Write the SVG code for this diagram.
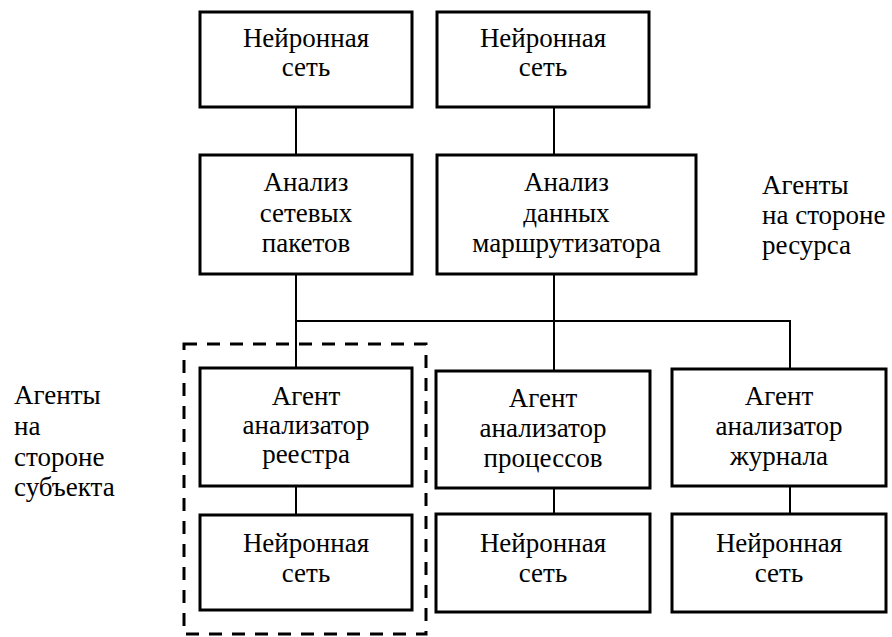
<svg xmlns="http://www.w3.org/2000/svg" width="892" height="637" viewBox="0 0 892 637">
<style>
.box{fill:#fff;stroke:#000;stroke-width:3}
.ln{stroke:#000;stroke-width:2;fill:none}
.dash{fill:none;stroke:#000;stroke-width:3;stroke-dasharray:13 10}
.t{font-family:'Liberation Serif','Times New Roman',serif;font-size:27px;fill:#000}
.c{text-anchor:middle}
</style>
<rect width="892" height="637" fill="#fff"/>
<g id="connectors">
<line class="ln" x1="296" y1="107" x2="296" y2="155"/>
<line class="ln" x1="554" y1="107" x2="554" y2="155"/>
<line class="ln" x1="296" y1="274" x2="296" y2="368"/>
<line class="ln" x1="554" y1="274" x2="554" y2="371"/>
<polyline class="ln" points="296,321 790,321 790,369"/>
<line class="ln" x1="296" y1="486" x2="296" y2="515"/>
<line class="ln" x1="554" y1="488" x2="554" y2="514"/>
<line class="ln" x1="790" y1="486" x2="790" y2="514"/>
</g>
<g id="group-subject">
<rect class="dash" x="184" y="344" width="242" height="290"/>
</g>
<g id="nn-top-left">
<rect class="box" x="200" y="12" width="212" height="95"/>
<text class="t c" x="306" y="47">Нейронная</text>
<text class="t c" x="306" y="76">сеть</text>
</g>
<g id="nn-top-right">
<rect class="box" x="437" y="12" width="212" height="95"/>
<text class="t c" x="543" y="47">Нейронная</text>
<text class="t c" x="543" y="76">сеть</text>
</g>
<g id="packets">
<rect class="box" x="200" y="155" width="212" height="119"/>
<text class="t c" x="306" y="191">Анализ</text>
<text class="t c" x="306" y="221.5">сетевых</text>
<text class="t c" x="306" y="252">пакетов</text>
</g>
<g id="router">
<rect class="box" x="437" y="155" width="259" height="119"/>
<text class="t c" x="566.5" y="191">Анализ</text>
<text class="t c" x="566.5" y="221.5">данных</text>
<text class="t c" x="566.5" y="252">маршрутизатора</text>
</g>
<g id="registry">
<rect class="box" x="200" y="368" width="212" height="118"/>
<text class="t c" x="306" y="405">Агент</text>
<text class="t c" x="306" y="434">анализатор</text>
<text class="t c" x="306" y="463">реестра</text>
</g>
<g id="nn-registry">
<rect class="box" x="200" y="515" width="212" height="95"/>
<text class="t c" x="306" y="552">Нейронная</text>
<text class="t c" x="306" y="582">сеть</text>
</g>
<g id="processes">
<rect class="box" x="436" y="371" width="214" height="117"/>
<text class="t c" x="543" y="407">Агент</text>
<text class="t c" x="543" y="437">анализатор</text>
<text class="t c" x="543" y="467">процессов</text>
</g>
<g id="nn-processes">
<rect class="box" x="436" y="514" width="214" height="98"/>
<text class="t c" x="543" y="552">Нейронная</text>
<text class="t c" x="543" y="582">сеть</text>
</g>
<g id="journal">
<rect class="box" x="672" y="369" width="214" height="117"/>
<text class="t c" x="779" y="405">Агент</text>
<text class="t c" x="779" y="435">анализатор</text>
<text class="t c" x="779" y="465">журнала</text>
</g>
<g id="nn-journal">
<rect class="box" x="672" y="514" width="214" height="98"/>
<text class="t c" x="779" y="552">Нейронная</text>
<text class="t c" x="779" y="582">сеть</text>
</g>
<g id="label-resource">
<text class="t" x="762" y="194">Агенты</text>
<text class="t" x="762" y="224">на стороне</text>
<text class="t" x="762" y="254">ресурса</text>
</g>
<g id="label-subject">
<text class="t" x="14" y="404">Агенты</text>
<text class="t" x="14" y="435">на</text>
<text class="t" x="14" y="466">стороне</text>
<text class="t" x="14" y="496">субъекта</text>
</g>
</svg>
